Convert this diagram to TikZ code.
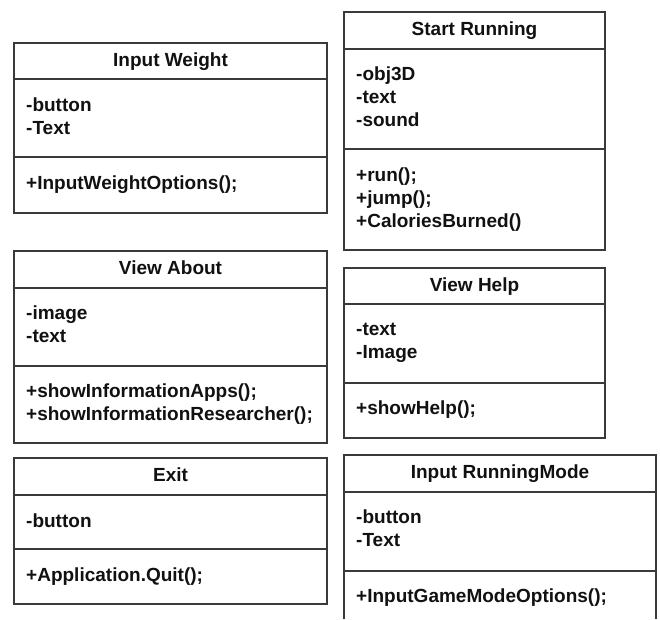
\documentclass[tikz,border=0pt]{standalone}
\usepackage{fontspec}
\setmainfont{Liberation Sans}
\definecolor{boxgray}{HTML}{3A3A3A}
\definecolor{txtblack}{HTML}{111111}
\begin{document}
\begin{tikzpicture}[x=1pt,y=-1pt,
  box/.style={draw=boxgray, line width=2pt},
  txt/.style={anchor=base west, inner sep=0pt, text=txtblack, font=\bfseries\fontsize{19}{23}\selectfont},
  ttl/.style={anchor=base, inner sep=0pt, text=txtblack, font=\bfseries\fontsize{19}{23}\selectfont}]
\useasboundingbox[fill=white] (0,0) rectangle (660,619);

% Input Weight
\draw[box] (14,43.3) rectangle (327,212.7);
\draw[box] (14,79.3) -- (327,79.3);
\draw[box] (14,157) -- (327,157);
\node[ttl] (iwt) at (170.5,66) {Input Weight};
\node[txt] (iwa1) at (26,111.3) {-button};
\node[txt] (iwa2) at (26,134.3) {-Text};
\node[txt] (iwm1) at (26,189) {+InputWeightOptions();};

% Start Running
\draw[box] (344,12) rectangle (605,250);
\draw[box] (344,48.7) -- (605,48.7);
\draw[box] (344,149.3) -- (605,149.3);
\node[ttl] (srt) at (474.5,35) {Start Running};
\node[txt] (sra1) at (356,80.7) {-obj3D};
\node[txt] (sra2) at (356,103.7) {-text};
\node[txt] (sra3) at (356,126.7) {-sound};
\node[txt] (srm1) at (356,181.3) {+run();};
\node[txt] (srm2) at (356,204.3) {+jump();};
\node[txt] (srm3) at (356,227.3) {+CaloriesBurned()};

% View About
\draw[box] (14,251) rectangle (327,442.7);
\draw[box] (14,287.7) -- (327,287.7);
\draw[box] (14,365.7) -- (327,365.7);
\node[ttl] (vat) at (170.5,274.3) {View About};
\node[txt] (vaa1) at (26,319.7) {-image};
\node[txt] (vaa2) at (26,342.7) {-text};
\node[txt] (vam1) at (26,397.7) {+showInformationApps();};
\node[txt] (vam2) at (26,420.7) {+showInformationResearcher();};

% View Help
\draw[box] (344,268.3) rectangle (605,438.3);
\draw[box] (344,303.7) -- (605,303.7);
\draw[box] (344,382.7) -- (605,382.7);
\node[ttl] (vht) at (474.5,291) {View Help};
\node[txt] (vha1) at (356,335.7) {-text};
\node[txt] (vha2) at (356,358.7) {-Image};
\node[txt] (vhm1) at (356,414.7) {+showHelp();};

% Exit
\draw[box] (14,458.3) rectangle (327,604);
\draw[box] (14,495) -- (327,495);
\draw[box] (14,549.3) -- (327,549.3);
\node[ttl] (ext) at (170.5,481.7) {Exit};
\node[txt] (exa1) at (26,527) {-button};
\node[txt] (exm1) at (26,581.3) {+Application.Quit();};

% Input RunningMode (cut off at the bottom)
\draw[box] (344,619) -- (344,455) -- (656,455) -- (656,619);
\draw[box] (344,491.7) -- (656,491.7);
\draw[box] (344,570.7) -- (656,570.7);
\node[ttl] (irt) at (500,478.3) {Input RunningMode};
\node[txt] (ira1) at (356,523.7) {-button};
\node[txt] (ira2) at (356,546.7) {-Text};
\node[txt] (irm1) at (356,602.7) {+InputGameModeOptions();};
\end{tikzpicture}
\end{document}
